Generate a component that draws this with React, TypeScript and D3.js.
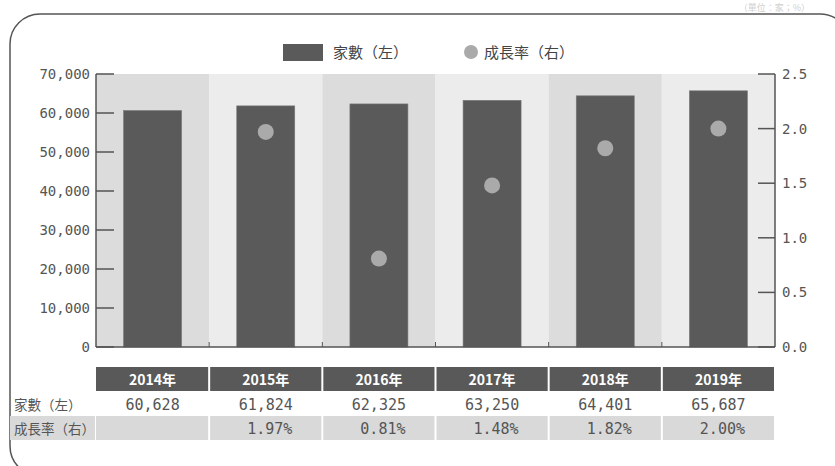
import React from "react";
import * as d3 from "d3";

const years = ["2014年", "2015年", "2016年", "2017年", "2018年", "2019年"];
const counts = [60628, 61824, 62325, 63250, 64401, 65687];
const growth: (number | null)[] = [null, 1.97, 0.81, 1.48, 1.82, 2.0];
const leftTicks = [0, 10000, 20000, 30000, 40000, 50000, 60000, 70000];
const rightTicks = [0, 0.5, 1.0, 1.5, 2.0, 2.5];
const seriesNames = ["家數（左）", "成長率（右）"];

const W = 835;
const H = 466;
const L = 96;
const R = 775;
const T = 74;
const B = 347;

const MONO = "'DejaVu Sans Mono', 'Noto Sans CJK TC', monospace";
const CJK = "'Noto Sans CJK TC', 'Noto Sans', sans-serif";

export default function App() {
  const x = d3.scaleBand<string>().domain(years).range([L, R]).paddingInner(0).paddingOuter(0);
  const yL = d3.scaleLinear().domain([0, 70000]).range([B, T]);
  const yR = d3.scaleLinear().domain([0, 2.5]).range([B, T]);
  const bw = x.bandwidth();
  const barW = 58;
  const fmtC = d3.format(",");
  const textCol = "#555";

  return (
    <svg width={W} height={H} style={{ position: "absolute", left: 0, top: 0, background: "#fff" }}>
      <text x={810} y={11} textAnchor="end" fontFamily={CJK} fontSize={9} fill="#d0d0d0">（單位：家；%）</text>
      <rect x={10} y={14} width={840} height={462} rx={30} ry={30} fill="none" stroke="#555" strokeWidth={1.5} />

      {/* legend */}
      <rect x={283} y={44} width={40} height={17} fill="#5a5a5a" />
      <text x={333} y={58} fontFamily={CJK} fontSize={15} fill="#444">{seriesNames[0]}</text>
      <circle cx={471} cy={52} r={7} fill="#aaa" />
      <text x={484} y={58} fontFamily={CJK} fontSize={15} fill="#444">{seriesNames[1]}</text>

      {/* bands */}
      {years.map((yv, i) => (
        <rect key={"band" + yv} x={x(yv)} y={T} width={bw} height={B - T} fill={i % 2 === 0 ? "#dcdcdc" : "#ececec"} />
      ))}

      {/* bars */}
      {years.map((yv, i) => (
        <rect key={"bar" + yv} x={(x(yv) as number) + bw / 2 - barW / 2} y={yL(counts[i])} width={barW} height={B - yL(counts[i])} fill="#5a5a5a" stroke="#777" strokeWidth={0.6} />
      ))}

      {/* dots */}
      {years.map((yv, i) =>
        growth[i] == null ? null : (
          <circle key={"dot" + yv} cx={(x(yv) as number) + bw / 2} cy={yR(growth[i] as number)} r={8} fill="#aaa" />
        )
      )}

      {/* axes */}
      <line x1={L} x2={L} y1={T} y2={B} stroke="#555" strokeWidth={1.5} />
      <line x1={R} x2={R} y1={T} y2={B} stroke="#555" strokeWidth={1.5} />
      <line x1={L} x2={R} y1={B} y2={B} stroke="#555" strokeWidth={1.5} />
      {years.slice(1).map((yv) => (
        <line key={"xt" + yv} x1={x(yv)} x2={x(yv)} y1={B} y2={B - 5} stroke="#555" strokeWidth={1} />
      ))}
      {leftTicks.map((t) => (
        <g key={"lt" + t}>
          <line x1={L} x2={L + 18} y1={yL(t)} y2={yL(t)} stroke="#555" strokeWidth={1.5} />
          <text x={90} y={yL(t) + 5} textAnchor="end" fontFamily={MONO} fontSize={14} fill={textCol}>{fmtC(t)}</text>
        </g>
      ))}
      {rightTicks.map((t) => (
        <g key={"rt" + t}>
          <line x1={R - 17} x2={R} y1={yR(t)} y2={yR(t)} stroke="#555" strokeWidth={1.5} />
          <text x={782} y={yR(t) + 5} fontFamily={MONO} fontSize={14} fill={textCol}>{t.toFixed(1)}</text>
        </g>
      ))}

      {/* table */}
      {years.map((yv, i) => (
        <g key={"tb" + yv}>
          <rect x={(x(yv) as number) + (i === 0 ? 0 : 1)} y={367} width={bw - (i === 0 ? 1 : 2)} height={24} fill="#595959" />
          <text x={(x(yv) as number) + bw / 2} y={385} textAnchor="middle" fontFamily={CJK} fontWeight="bold" fontSize={14} fill="#fff">{yv}</text>
          <text x={(x(yv) as number) + bw / 2} y={410} textAnchor="middle" fontFamily={MONO} fontSize={15} fill={textCol}>{fmtC(counts[i])}</text>
          <rect x={(x(yv) as number) + (i === 0 ? 0 : 1)} y={416} width={bw - (i === 0 ? 1 : 2)} height={24} fill="#d9d9d9" />
          {growth[i] == null ? null : (
            <text x={(x(yv) as number) + bw / 2 + 4} y={434} textAnchor="middle" fontFamily={MONO} fontSize={15} fill={textCol}>{(growth[i] as number).toFixed(2) + "%"}</text>
          )}
        </g>
      ))}
      <rect x={10} y={416} width={85} height={24} fill="#d9d9d9" />
      <text x={14} y={410} fontFamily={CJK} fontSize={13.5} fill={textCol}>{seriesNames[0]}</text>
      <text x={14} y={434} fontFamily={CJK} fontSize={13.5} fill={textCol}>{seriesNames[1]}</text>
    </svg>
  );
}
